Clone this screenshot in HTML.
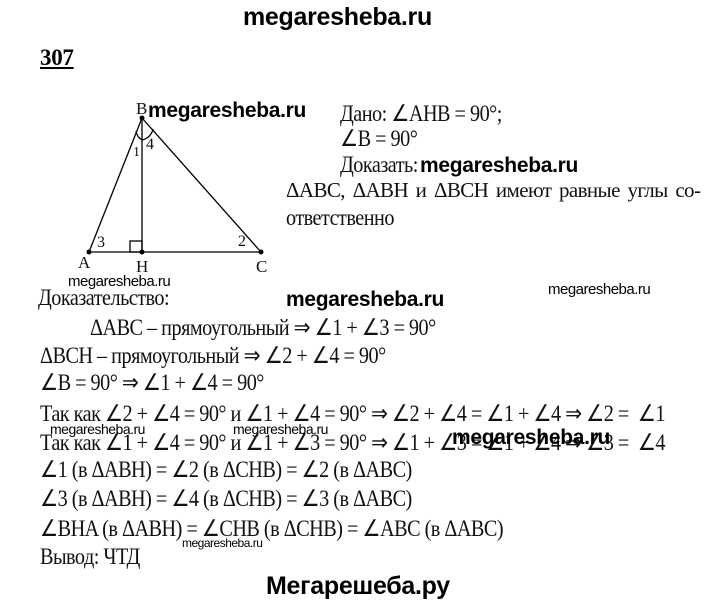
<!DOCTYPE html>
<html><head><meta charset="utf-8"><style>
body{margin:0;width:720px;height:606px;background:#fff;position:relative;overflow:hidden}
.t{position:absolute;font-family:"Liberation Serif",serif;font-size:23px;line-height:1;white-space:nowrap;color:#111;letter-spacing:-0.6px;transform:scaleX(0.88);transform-origin:0 0}
.u{position:absolute;font-family:"Liberation Serif",serif;font-size:21px;line-height:1;white-space:nowrap;color:#111;letter-spacing:-0.6px}
.w{position:absolute;font-family:"Liberation Sans",sans-serif;font-weight:bold;font-size:21px;line-height:1;white-space:nowrap;color:#000;letter-spacing:-0.3px}
.s{position:absolute;font-family:"Liberation Sans",sans-serif;font-size:14px;line-height:1;white-space:nowrap;color:#000;letter-spacing:-0.5px}
</style></head><body>
<div class="w" style="left:243px;top:5px;font-size:25px">megaresheba.ru</div>
<div class="w" style="left:40px;top:46px;font-size:23px;font-family:'Liberation Serif',serif;text-decoration:underline">307</div>
<svg style="position:absolute;left:0;top:0" width="720" height="606">
<g stroke="#000" stroke-width="1.3" fill="none">
<line x1="142" y1="118" x2="89" y2="252"/><line x1="142" y1="118" x2="261" y2="252"/>
<line x1="142" y1="118" x2="142" y2="252"/><line x1="89" y1="252" x2="261" y2="252"/>
<rect x="130" y="241" width="12" height="11"/>
<path d="M136 131 A13 13 0 0 0 142 140"/><path d="M142 140 A14 14 0 0 0 153 129"/>
</g>
<g fill="#000"><circle cx="142" cy="118" r="2.5"/><circle cx="89" cy="252" r="2.5"/><circle cx="142" cy="252" r="2.5"/><circle cx="261" cy="252" r="2.5"/></g>
</svg>
<div class="u" style="left:136px;top:100px;font-size:17px">B</div>
<div class="u" style="left:146px;top:137px;font-size:16px">4</div>
<div class="u" style="left:133px;top:146px;font-size:14px">1</div>
<div class="u" style="left:97px;top:235px;font-size:16px">3</div>
<div class="u" style="left:238px;top:234px;font-size:16px">2</div>
<div class="u" style="left:78px;top:254px;font-size:17px">A</div>
<div class="u" style="left:136px;top:258px;font-size:17px">H</div>
<div class="u" style="left:256px;top:258px;font-size:17px">C</div>
<div class="w" style="left:148px;top:100px">megaresheba.ru</div>
<div class="t" style="left:340px;top:102px">Дано: ∠AHB = 90°;</div>
<div class="t" style="left:340px;top:127px">∠B = 90°</div>
<div class="t" style="left:340px;top:153px">Доказать:</div>
<div class="w" style="left:420px;top:155px">megaresheba.ru</div>
<div class="u" style="left:286px;top:180px;word-spacing:3px">ΔABC, ΔABH и ΔBCH имеют равные углы со-</div>
<div class="t" style="left:286px;top:206px">ответственно</div>
<div class="s" style="left:68px;top:274px;font-size:15px">megaresheba.ru</div>
<div class="t" style="left:38px;top:286px">Доказательство:</div>
<div class="w" style="left:286px;top:289px">megaresheba.ru</div>
<div class="s" style="left:548px;top:282px;font-size:15px">megaresheba.ru</div>
<div class="t" style="left:90px;top:316px">ΔABC – прямоугольный ⇒ ∠1 + ∠3 = 90°</div>
<div class="t" style="left:40px;top:344px">ΔBCH – прямоугольный ⇒ ∠2 + ∠4 = 90°</div>
<div class="t" style="left:40px;top:371px">∠B = 90° ⇒ ∠1 + ∠4 = 90°</div>
<div class="t" style="left:40px;top:402px">Так как ∠2 + ∠4 = 90° и ∠1 + ∠4 = 90° ⇒ ∠2 + ∠4 = ∠1 + ∠4 ⇒ ∠2 =&nbsp; ∠1</div>
<div class="s" style="left:50px;top:422px">megaresheba.ru</div>
<div class="s" style="left:233px;top:422px">megaresheba.ru</div>
<div class="t" style="left:40px;top:431px">Так как ∠1 + ∠4 = 90° и ∠1 + ∠3 = 90° ⇒ ∠1 + ∠3 = ∠1 + ∠4 ⇒ ∠3 =&nbsp; ∠4</div>
<div class="w" style="left:452px;top:427px">megaresheba.ru</div>
<div class="t" style="left:40px;top:458px">∠1 (в ΔABH) = ∠2 (в ΔCHB) = ∠2 (в ΔABC)</div>
<div class="t" style="left:40px;top:487px">∠3 (в ΔABH) = ∠4 (в ΔCHB) = ∠3 (в ΔABC)</div>
<div class="t" style="left:40px;top:517px">∠BHA (в ΔABH) = ∠CHB (в ΔCHB) = ∠ABC (в ΔABC)</div>
<div class="s" style="left:182px;top:537px;font-size:12px">megaresheba.ru</div>
<div class="t" style="left:40px;top:545px">Вывод: ЧТД</div>
<div class="w" style="left:266px;top:574px;font-size:25px">Мегарешеба.ру</div>
</body></html>
